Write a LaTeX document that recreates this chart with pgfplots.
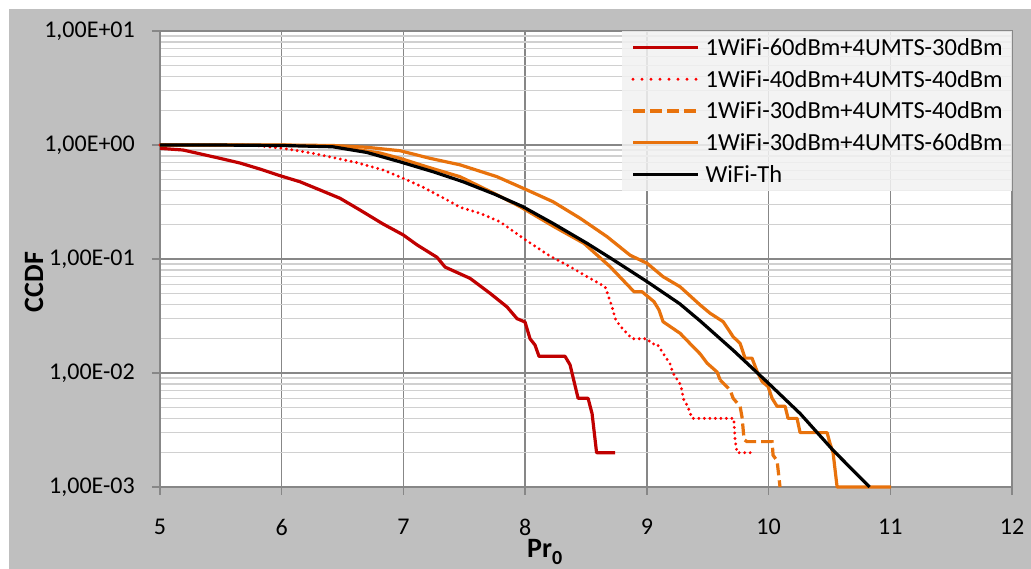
\documentclass[border=0pt]{standalone}
\usepackage{pgfplots}
\pgfplotsset{compat=1.18}
\usepackage{fontspec}
\setmainfont{Carlito}
\definecolor{cDarkRed}{HTML}{C00000}
\definecolor{cRed}{HTML}{FF0000}
\definecolor{cOrange}{HTML}{E8720C}
\definecolor{cBg}{HTML}{BFBFBF}
\definecolor{cMajor}{HTML}{878787}
\definecolor{cMinor}{HTML}{D0D0D0}
\pgfplotsset{
  dotlegend/.style={legend image code/.code={\draw[##1, dash pattern=on 0bp off 9bp] (0bp,0bp) -- (65bp,0bp);}},
}
\begin{document}
\begin{tikzpicture}
\fill[white] (-160bp,-82bp) rectangle (871bp,487bp);
\fill[cBg] (-151bp,-82bp) rectangle (871bp,478bp);
\begin{axis}[
  at={(0,0)}, anchor=south west,
  scale only axis, width=852bp, height=456bp,
  xmin=5, xmax=12, ymode=log, ymin=1e-3, ymax=10,
  clip=false,
  axis background/.style={fill=white},
  xtick={5,6,7,8,9,10,11,12},
  xticklabels={5,6,7,8,9,10,11,12},
  ytick={1e-3,1e-2,1e-1,1,10},
  yticklabels={{1,00E-03},{1,00E-02},{1,00E-01},{1,00E+00},{1,00E+01}},
  minor ytick={2e-3,3e-3,4e-3,5e-3,6e-3,7e-3,8e-3,9e-3,
               2e-2,3e-2,4e-2,5e-2,6e-2,7e-2,8e-2,9e-2,
               0.2,0.3,0.4,0.5,0.6,0.7,0.8,0.9,
               2,3,4,5,6,7,8,9},
  xmajorgrids, ymajorgrids, yminorgrids,
  major grid style={cMajor, line width=1.5bp},
  minor grid style={cMinor, line width=1.5bp},
  axis line style={cMajor, line width=1.5bp},
  tick style={cMajor, line width=1.5bp},
  tick align=outside, major tick length=8bp, minor tick length=0bp,
  xtick pos=left, ytick pos=left,
  /pgf/number format/assume math mode=true,
  tick label style={font=\fontsize{24bp}{29bp}\selectfont, text=black},
  yticklabel style={anchor=east, inner sep=0pt, xshift=-17bp},
  xticklabel style={anchor=north, inner sep=0pt, yshift=-24bp},
  xlabel={Pr\raisebox{-7bp}{\fontsize{20bp}{24bp}\selectfont 0}},
  xlabel style={at={(axis description cs:0.43075,-0.15351)}, anchor=base west, inner sep=0pt,
                font=\bfseries\fontsize{28bp}{34bp}\selectfont},
  ylabel={CCDF},
  ylabel style={at={(axis description cs:-0.14789,0.44956)}, anchor=center, inner sep=0pt,
                font=\bfseries\fontsize{28bp}{34bp}\selectfont},
  legend style={at={(1,1)}, anchor=north east, draw=none, fill=white!95!black,
                fill opacity=0.85, text opacity=1,
                font=\fontsize{24.5bp}{29bp}\selectfont,
                inner xsep=9bp, inner ysep=6.5bp, row sep=11.6bp, column sep=6bp,
                nodes={inner sep=0pt, text height=18bp, text depth=2bp}},
  legend cell align=left,
  legend image code/.code={\draw[#1] (0bp,0bp) -- (65bp,0bp);},
]
% 1WiFi-60dBm+4UMTS-30dBm
\addplot[cDarkRed, line width=3.2bp, line join=round] coordinates {
(5.000,0.935) (5.189,0.904) (5.493,0.764) (5.657,0.695) (5.822,0.615)
(5.986,0.538) (6.150,0.476) (6.315,0.403) (6.479,0.341) (6.643,0.269)
(6.832,0.203) (6.997,0.163) (7.112,0.133) (7.276,0.1035) (7.342,0.085)
(7.547,0.0677) (7.712,0.050) (7.851,0.038) (7.933,0.030) (7.999,0.028)
(8.040,0.020) (8.081,0.0176) (8.114,0.014) (8.328,0.014) (8.369,0.0118)
(8.435,0.006) (8.517,0.006) (8.550,0.0044) (8.587,0.002) (8.739,0.002)
};
\addlegendentry{1WiFi-60dBm+4UMTS-30dBm}
% 1WiFi-40dBm+4UMTS-40dBm
\addplot[cRed, line width=3.2bp, line cap=round, dash pattern=on 0bp off 5.5bp, dotlegend] coordinates {
(5.000,1.0) (5.740,1.0) (6.011,0.935) (6.233,0.855) (6.454,0.764)
(6.619,0.700) (6.832,0.604) (6.997,0.511) (7.161,0.426) (7.358,0.330)
(7.465,0.284) (7.629,0.252) (7.794,0.212) (7.983,0.152) (8.205,0.106)
(8.369,0.0856) (8.533,0.0677) (8.657,0.0571) (8.681,0.0483) (8.714,0.0382)
(8.739,0.0302) (8.780,0.0258) (8.879,0.020) (9.002,0.020) (9.043,0.018)
(9.084,0.018) (9.150,0.014) (9.191,0.012) (9.215,0.010) (9.273,0.008)
(9.289,0.007) (9.298,0.006) (9.339,0.005) (9.372,0.004) (9.714,0.004)
(9.725,0.0026) (9.741,0.002) (9.864,0.002)
};
\addlegendentry{1WiFi-40dBm+4UMTS-40dBm}
% 1WiFi-30dBm+4UMTS-40dBm (dense part drawn solid, as in the source)
\addplot[cOrange, line width=3.2bp, line join=round, forget plot] coordinates {
(5.000,1.0) (5.500,1.0) (6.000,0.995) (6.420,0.975) (6.810,0.850)
(6.972,0.764) (7.200,0.640) (7.465,0.527) (7.744,0.377) (7.958,0.288)
(8.238,0.192) (8.484,0.137) (8.698,0.0856) (8.895,0.0516) (8.961,0.0516)
(9.059,0.0422) (9.100,0.0357) (9.133,0.0282) (9.273,0.0223) (9.380,0.0170)
(9.438,0.0147) (9.495,0.0122) (9.577,0.0102) (9.602,0.0087)
};
\addplot[cOrange, line width=3.2bp, dash pattern=on 12bp off 5bp] coordinates {
(9.602,0.0087) (9.684,0.0071) (9.709,0.0060) (9.766,0.0051) (9.782,0.0041)
(9.799,0.0026) (9.823,0.0025) (10.029,0.0025) (10.037,0.0019) (10.070,0.0017)
(10.094,0.001)
};
\addlegendentry{1WiFi-30dBm+4UMTS-40dBm}
% 1WiFi-30dBm+4UMTS-60dBm
\addplot[cOrange, line width=3.2bp, line join=round] coordinates {
(5.000,1.0) (5.500,1.0) (6.000,1.0) (6.420,0.99) (6.700,0.955)
(6.972,0.891) (7.219,0.764) (7.465,0.670) (7.769,0.527) (8.016,0.403)
(8.229,0.318) (8.451,0.228) (8.673,0.157) (8.862,0.108) (9.002,0.0917)
(9.133,0.070) (9.273,0.0571) (9.438,0.0395) (9.520,0.0334) (9.627,0.0282)
(9.709,0.0208) (9.766,0.0182) (9.807,0.0135) (9.864,0.0135) (9.906,0.0103)
(9.947,0.0084) (9.996,0.0076) (10.029,0.0060) (10.070,0.0051) (10.136,0.0051)
(10.160,0.0040) (10.234,0.0040) (10.259,0.0030) (10.481,0.0030) (10.505,0.0024)
(10.530,0.0020) (10.563,0.001) (11.007,0.001)
};
\addlegendentry{1WiFi-30dBm+4UMTS-60dBm}
% WiFi-Th
\addplot[black, line width=3.2bp, line join=round] coordinates {
(5.000,1.0) (5.500,0.999) (6.000,0.99) (6.420,0.965) (6.700,0.86)
(6.970,0.713) (7.250,0.58) (7.490,0.476) (7.750,0.37) (7.980,0.288)
(8.230,0.205) (8.510,0.137) (8.720,0.099) (9.000,0.0635) (9.270,0.0405)
(9.440,0.0285) (9.710,0.0158) (9.990,0.0083) (10.260,0.0044) (10.530,0.0021)
(10.830,0.001)
};
\addlegendentry{WiFi-Th}
\end{axis}
\pgfresetboundingbox
\useasboundingbox (-160bp,-82bp) rectangle (871bp,487bp);
\end{tikzpicture}
\end{document}
